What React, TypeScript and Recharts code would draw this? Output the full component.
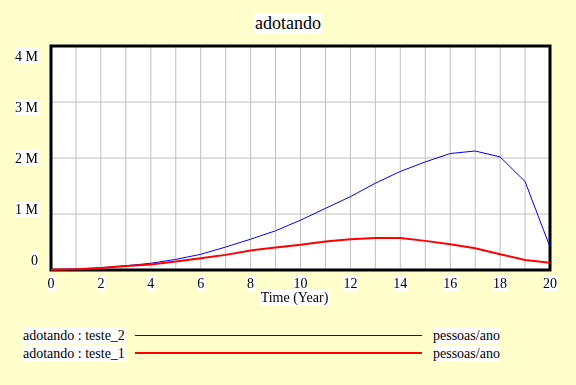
import React from 'react';
import {
  LineChart, Line, XAxis, YAxis, CartesianGrid, ReferenceArea,
} from 'recharts';

const years = [0, 1, 2, 3, 4, 5, 6, 7, 8, 9, 10, 11, 12, 13, 14, 15, 16, 17, 18, 19, 20];
// millions of pessoas/ano
const teste2 = [0.005, 0.015, 0.04, 0.075, 0.12, 0.19, 0.28, 0.41, 0.55, 0.7, 0.89, 1.1, 1.31, 1.55, 1.76, 1.93, 2.08, 2.125, 2.02, 1.58, 0.41];
const teste1 = [0.005, 0.015, 0.035, 0.07, 0.1, 0.15, 0.21, 0.27, 0.35, 0.4, 0.45, 0.51, 0.55, 0.57, 0.57, 0.52, 0.46, 0.39, 0.28, 0.18, 0.13];
const xTicks = years;
const yTicks = [0, 1, 2, 3, 4];

const series = [
  { key: 'teste_2', label: 'adotando : teste_2', unit: 'pessoas/ano', color: '#0000FF', width: 1 },
  { key: 'teste_1', label: 'adotando : teste_1', unit: 'pessoas/ano', color: '#FF0000', width: 2 },
];

const data = years.map((t, i) => ({ t, teste_2: teste2[i] * 1e6, teste_1: teste1[i] * 1e6 }));

const FONT = "'Liberation Serif', serif";
const BG = '#FFFFCC';

// svg text on a white box (filter fills the text bbox)
function BoxText({ x, y, children, anchor = 'middle', size = 14 }: any) {
  return (
    <text x={x} y={y} textAnchor={anchor} dominantBaseline="central" filter="url(#whitebox)"
      style={{ fontFamily: FONT }} fontSize={size} fill="#000">{children}</text>
  );
}

function XTick({ x, y, payload }: any) {
  if (payload.value % 2 !== 0) return null;
  return <BoxText x={x} y={y + 5}>{payload.value}</BoxText>;
}

function YTick({ x, y, payload }: any) {
  const v = payload.value / 1e6;
  // Vensim spreads the labels a little inside the frame
  const dy = (v - 2) * 5;
  return <BoxText x={x - 5} y={y + dy} anchor="end">{v === 0 ? '0' : `${v} M`}</BoxText>;
}

const textStyle: React.CSSProperties = {
  position: 'absolute', top: 0, background: '#fff', lineHeight: '17px', whiteSpace: 'nowrap',
  fontFamily: FONT, fontSize: 14, color: '#000',
};

export default function App() {
  return (
    <div style={{ position: 'relative', width: 576, height: 385, background: BG }}>
      <style>{'body{margin:0}'}</style>
      <svg width={0} height={0} style={{ position: 'absolute' }}>
        <defs>
          <filter id="whitebox" x="0" y="0" width="1" height="1" colorInterpolationFilters="sRGB">
            <feFlood floodColor="#fff" />
            <feComposite in="SourceGraphic" operator="over" />
          </filter>
        </defs>
      </svg>
      <div style={{ position: 'absolute', top: 12, left: 0, width: 576, textAlign: 'center' }}>
        <span style={{ background: '#fff', fontFamily: FONT, fontSize: 18, lineHeight: '23px', padding: '0 1px' }}>adotando</span>
      </div>
      <LineChart width={576} height={385} data={data}
        margin={{ top: 46, right: 26, left: 0, bottom: 70 }}>
        <CartesianGrid fill="#fff" stroke="#C0C0C0" strokeWidth={1}
          horizontalValues={[1e6, 2e6, 3e6]} verticalValues={xTicks.slice(1, -1)} />
        <XAxis dataKey="t" type="number" domain={[0, 20]} ticks={xTicks} interval={0}
          tick={<XTick />} tickLine={false} axisLine={false} height={45}
          label={{ value: 'Time (Year)', position: 'insideTop', content: (p: any) => (
            <BoxText x={p.viewBox.x + p.viewBox.width / 2 - 6} y={p.viewBox.y + 27}>Time (Year)</BoxText>
          ) }} />
        <YAxis type="number" domain={[0, 4e6]} ticks={yTicks.map(v => v * 1e6)} interval={0}
          tick={<YTick />} tickLine={false} axisLine={false} width={51} />
        {series.map(s => (
          <Line key={s.key} dataKey={s.key} stroke={s.color} strokeWidth={s.width} dot={false}
            type="linear" isAnimationActive={false} />
        ))}
        <ReferenceArea x1={0} x2={20} y1={0} y2={4e6} fill="none" stroke="#000" strokeWidth={3}
          fillOpacity={0} ifOverflow="visible" />
      </LineChart>
      {series.map((s, i) => (
        <div key={s.key} style={{ position: 'absolute', left: 0, top: 327 + i * 18, width: 576, height: 17 }}>
          <span style={{ ...textStyle, left: 23 }}>{s.label}</span>
          <div style={{ position: 'absolute', left: 135, width: 287, top: 8 - Math.floor(s.width / 2), height: s.width, background: s.color }} />
          <span style={{ ...textStyle, left: 433 }}>{s.unit}</span>
        </div>
      ))}
    </div>
  );
}
